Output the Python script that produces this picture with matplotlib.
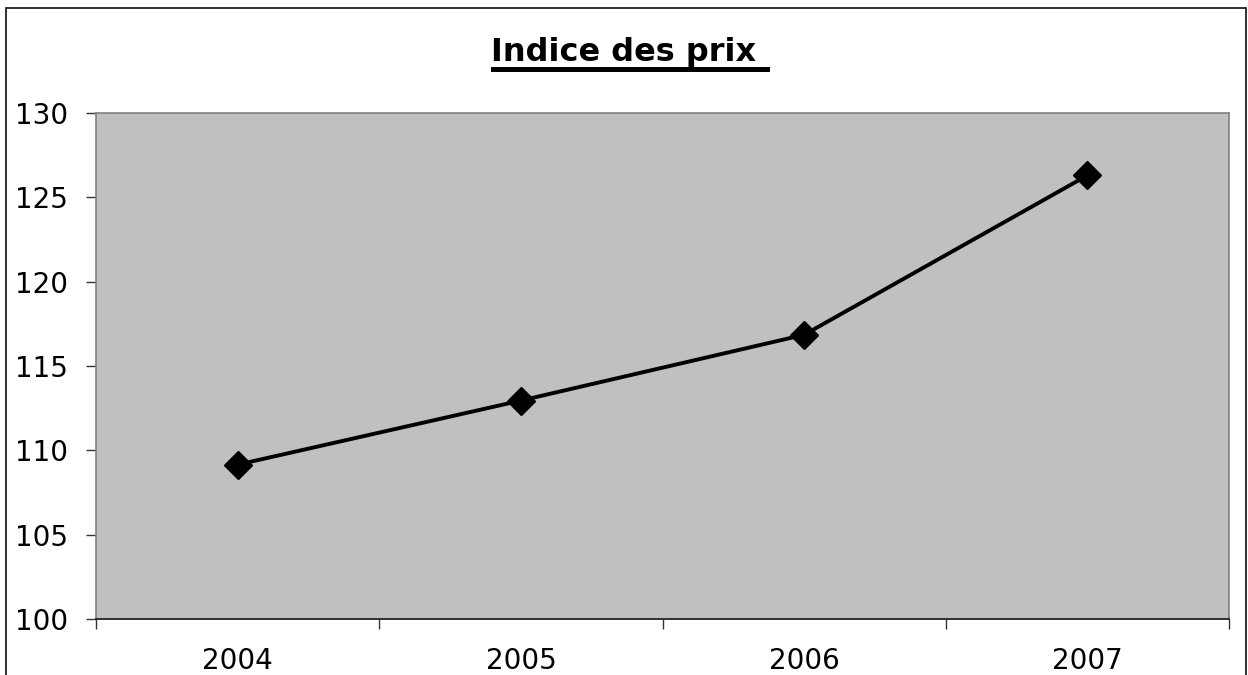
import matplotlib.pyplot as plt
from matplotlib.patches import Rectangle
from matplotlib.lines import Line2D

years = ["2004", "2005", "2006", "2007"]
indice = [109.15, 112.95, 116.85, 126.3]
yticks = [100, 105, 110, 115, 120, 125, 130]

plt.rcParams['font.family'] = ['DejaVu Sans']

W, H = 1248, 675
fig = plt.figure(figsize=(W / 100, H / 100), dpi=100)
ax = fig.add_axes([96 / W, 1 - 619 / H, (1229 - 96) / W, (619 - 113) / H])

# cadre du graphique (coupe en bas comme l'original)
fig.patches.append(Rectangle((6 / W, -0.05), (1246 - 6) / W, 1 - 8 / H + 0.05,
                             transform=fig.transFigure, fill=False,
                             edgecolor='#222222', linewidth=1.3))

x = range(len(years))
ax.plot(x, indice, color='black', linewidth=2.8, marker='D', markersize=14,
        markerfacecolor='black', markeredgecolor='black')

ax.set_facecolor('#c0c0c0')
ax.set_xlim(-0.5, len(years) - 0.5)
ax.set_ylim(100, 130)
ax.set_yticks(yticks)
ax.set_yticklabels([str(v) for v in yticks], fontsize=20)
ax.set_xticks([i - 0.5 for i in range(len(years) + 1)])
ax.set_xticklabels([])
ax.set_xticks(list(x), minor=True)
ax.set_xticklabels(years, minor=True, fontsize=20)
ax.tick_params(axis='x', which='minor', length=0, pad=20)
ax.tick_params(axis='x', which='major', length=7, direction='out', width=1, color='#333333')
ax.tick_params(axis='y', length=7, width=1, pad=13, color='#333333')

for s in ['top', 'right', 'left']:
    ax.spines[s].set_color('#808080')
    ax.spines[s].set_linewidth(1.2)
ax.spines['bottom'].set_color('#222222')
ax.spines['bottom'].set_linewidth(1.3)

t = fig.text(629 / W, 1 - 53 / H, "Indice des prix ", ha='center', va='center',
             fontsize=23, fontweight='bold')
fig.canvas.draw()
bb = t.get_window_extent()
fig.lines.append(Line2D([bb.x0 / W + 0.002, bb.x1 / W], [1 - 69 / H, 1 - 69 / H],
                        transform=fig.transFigure, color='black', linewidth=3.6))

fig.savefig('out.png', dpi=100)
